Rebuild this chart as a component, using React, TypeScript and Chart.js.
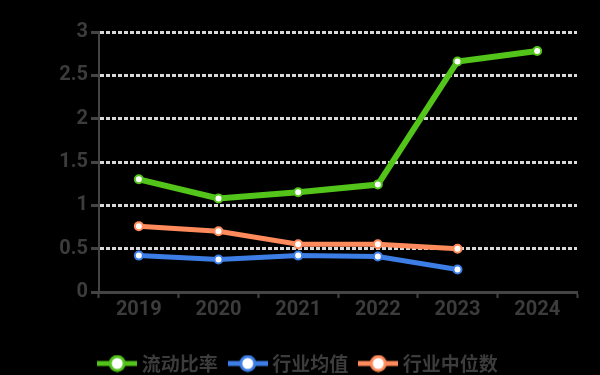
import React, { useEffect, useRef } from "react";
import { Chart, registerables } from "chart.js";

Chart.register(...registerables);

const years = ["2019", "2020", "2021", "2022", "2023", "2024"];
const companyValues = [1.3, 1.08, 1.15, 1.24, 2.66, 2.78];
const industryMean = [0.42, 0.375, 0.42, 0.41, 0.26, null];
const industryMedian = [0.76, 0.7, 0.55, 0.55, 0.5, null];
const seriesNames = ["流动比率", "行业均值", "行业中位数"];
const yTicks = [0, 0.5, 1, 1.5, 2, 2.5, 3];

const GREEN = "#52c41a";
const BLUE = "#3d7ee6";
const ORANGE = "#ff8a5b";
const TEXT = "#3c3c3c";

function legendIcon(color: string): HTMLCanvasElement {
  const c = document.createElement("canvas");
  c.width = 40;
  c.height = 18;
  const ctx = c.getContext("2d")!;
  ctx.strokeStyle = color;
  ctx.lineWidth = 5;
  ctx.beginPath();
  ctx.moveTo(0, 9);
  ctx.lineTo(40, 9);
  ctx.stroke();
  ctx.beginPath();
  ctx.arc(20, 9, 7, 0, Math.PI * 2);
  ctx.fillStyle = "#ffffff";
  ctx.fill();
  ctx.lineWidth = 3;
  ctx.stroke();
  return c;
}

export default function App() {
  const ref = useRef<HTMLCanvasElement | null>(null);
  useEffect(() => {
    if (!ref.current) return;
    const colors = [GREEN, BLUE, ORANGE];
    const data = [companyValues, industryMean, industryMedian];
    const icons = colors.map(legendIcon);
    const chart = new Chart(ref.current, {
      type: "line",
      data: {
        labels: years,
        datasets: data.map((d, i) => ({
          label: seriesNames[i],
          data: d,
          borderColor: colors[i],
          backgroundColor: "#ffffff",
          borderWidth: i === 0 ? 6 : 5,
          pointRadius: 4,
          pointBorderWidth: 2,
          pointBackgroundColor: "#ffffff",
          pointBorderColor: colors[i],
          tension: 0,
        })),
      },
      options: {
        animation: false,
        responsive: false,
        layout: { padding: { top: 32, right: 23, left: 23, bottom: -8 } },
        plugins: {
          tooltip: { enabled: false },
          legend: {
            position: "bottom",
            labels: {
              usePointStyle: true,
              pointStyleWidth: 30,
              padding: 15,
              color: TEXT,
              font: { size: 19, weight: "bold", family: "Noto Sans CJK SC" },
              generateLabels: (ch: any) =>
                ch.data.datasets.map((ds: any, i: number) => ({
                  text: ds.label,
                  pointStyle: icons[i],
                  fillStyle: colors[i],
                  strokeStyle: colors[i],
                  lineWidth: 0,
                  hidden: false,
                  datasetIndex: i,
                  fontColor: TEXT,
                })),
            },
          },
        },
        scales: {
          x: {
            offset: true,
            grid: {
              display: true,
              drawOnChartArea: false,
              drawTicks: true,
              tickLength: 6,
              tickColor: "#444444",
              tickWidth: 2,
              offset: true,
            },
            border: { display: true, color: "#444444", width: 3 },
            ticks: {
              color: TEXT,
              padding: 0,
              font: { size: 20, weight: "bold", family: "Roboto" },
            },
            afterFit: (s: any) => {
              s.height = 47;
            },
          },
          y: {
            min: 0,
            max: 3,
            afterBuildTicks: (axis: any) => {
              axis.ticks = yTicks.map((v) => ({ value: v }));
            },
            afterFit: (s: any) => {
              s.width = 76;
            },
            grid: {
              color: "#d9d9d9",
              lineWidth: 3,
              tickColor: "#444444",
              tickLength: 8,
              tickWidth: 3,
            },
            border: { display: true, color: "#444444", width: 2, dash: [4, 2] },
            ticks: {
              color: TEXT,
              padding: 3,
              font: { size: 20, weight: "bold", family: "Roboto" },
              callback: (v: any) => String(v),
            },
          },
        },
      } as any,
    });
    return () => chart.destroy();
  }, []);
  return (
    <div style={{ position: "fixed", left: 0, top: 0, width: 600, height: 375, background: "#000" }}>
      <canvas ref={ref} width={600} height={375} />
    </div>
  );
}
